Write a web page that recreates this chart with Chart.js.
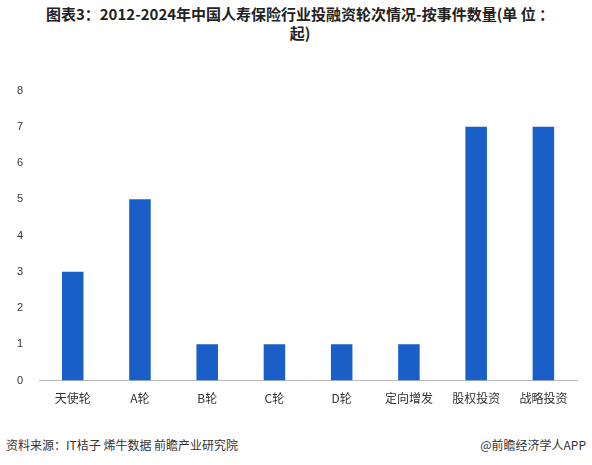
<!DOCTYPE html>
<html><head><meta charset="utf-8">
<script src="https://cdn.jsdelivr.net/npm/chart.js@4"></script>
<style>
body{margin:0;width:592px;height:465px;background:#fff;font-family:"Noto Sans CJK SC",sans-serif;position:relative;overflow:hidden}
#title{position:absolute;top:4px;left:20px;width:560px;text-align:center;font-weight:bold;font-size:15px;line-height:19px;color:#222}
#wrap{position:absolute;top:76px;left:0;width:592px;height:333px}
#src{position:absolute;top:436px;left:6px;font-size:12px;color:#333}
#app{position:absolute;top:436px;right:6px;font-size:12px;color:#333}
</style></head><body>
<div id="title">图表3：2012-2024年中国人寿保险行业投融资轮次情况-按事件数量(单 位 ：<br>起)</div>
<div id="wrap"><canvas id="c"></canvas></div>
<div id="src">资料来源：IT桔子 烯牛数据 前瞻产业研究院</div>
<div id="app">@前瞻经济学人APP</div>
<script>
const categories = ['天使轮','A轮','B轮','C轮','D轮','定向增发','股权投资','战略投资'];
const counts = [3,5,1,1,1,1,7,7];
const yTicks = [0,1,2,3,4,5,6,7,8];

new Chart(document.getElementById('c'), {
    type: 'bar',
    data: {
        labels: categories,
        datasets: [{
            data: counts,
            backgroundColor: '#1a5fc8',
            barPercentage: 0.32,
            categoryPercentage: 1
        }]
    },
    options: {
        responsive: true,
        maintainAspectRatio: false,
        animation: false,
        layout: {padding: {left: 9, right: 15, top: 12, bottom: 0}},
        plugins: {legend: {display: false}, tooltip: {enabled: false}},
        scales: {
            x: {
                grid: {display: false},
                border: {color: '#bbb'},
                ticks: {color: '#333', font: {size: 12, family: 'Noto Sans CJK SC'}}
            },
            y: {
                min: 0, max: 8,
                afterBuildTicks: s => { s.ticks = yTicks.map(v => ({value: v})); },
                grid: {display: false},
                border: {display: false},
                ticks: {color: '#333', padding: 8, font: {size: 11}}
            }
        }
    }
});
</script>
</body></html>
